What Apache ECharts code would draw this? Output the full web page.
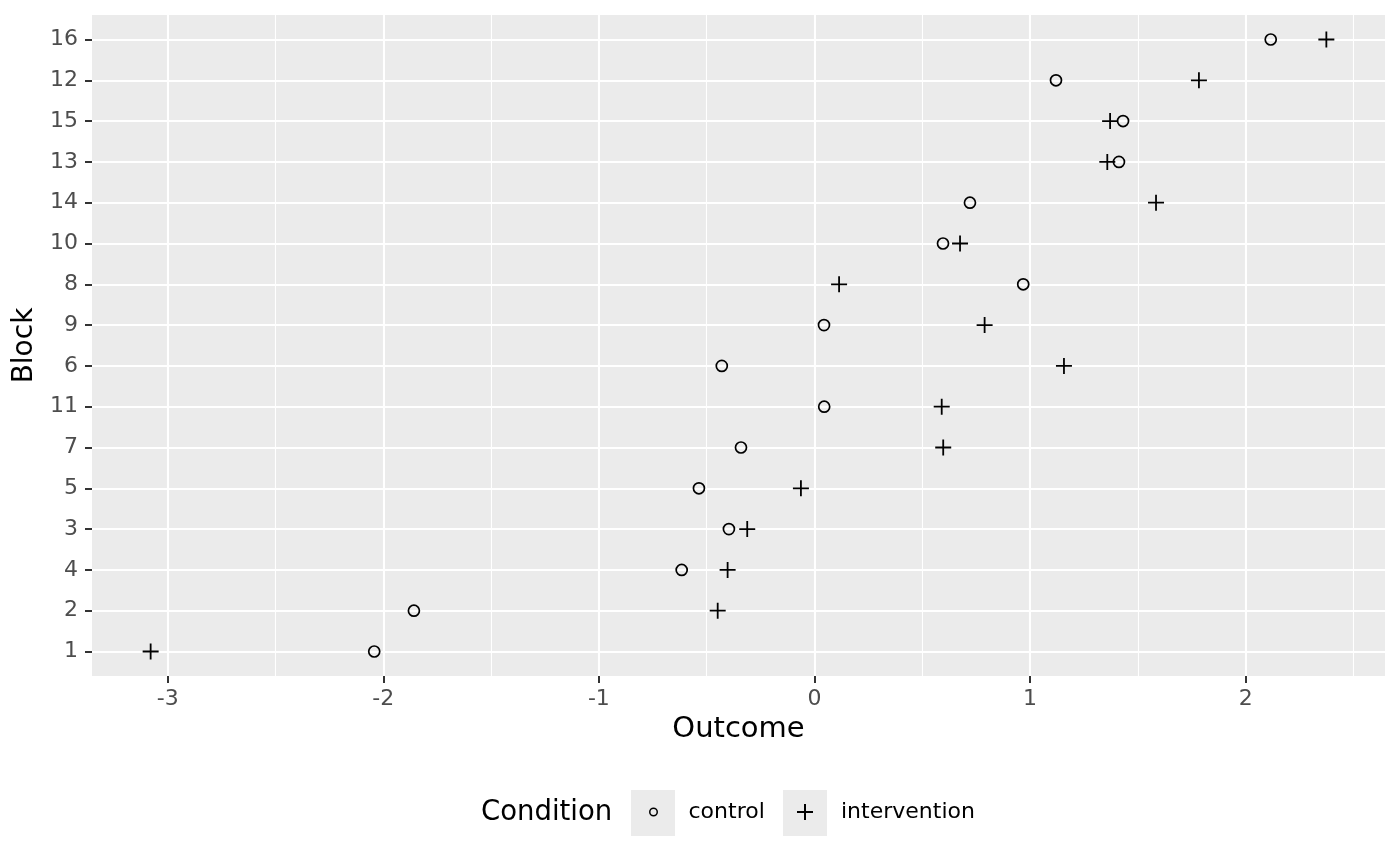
<!DOCTYPE html>
<html>
<head>
<meta charset="utf-8">
<script src="https://cdn.jsdelivr.net/npm/echarts@6/dist/echarts.min.js"></script>
<style>
html,body{margin:0;padding:0;background:#fff;}
#chart{width:1400px;height:865px;}
</style>
</head>
<body>
<div id="chart"></div>
<script>
// Blocks in display order (bottom to top)
const blocks = ['1','2','4','3','5','7','11','6','9','8','10','14','13','15','12','16'];
// Outcome per block, same order
const controlValues = [-2.042, -1.858, -0.616, -0.397, -0.536, -0.341, 0.045, -0.430, 0.044, 0.968, 0.596, 0.721, 1.412, 1.431, 1.120, 2.116];
const interventionValues = [-3.079, -0.449, -0.403, -0.312, -0.063, 0.597, 0.590, 1.157, 0.789, 0.114, 0.675, 1.584, 1.358, 1.371, 1.783, 2.374];
const xTicks = [-3, -2, -1, 0, 1, 2];
const xMinorBreaks = [-2.5, -1.5, -0.5, 0.5, 1.5, 2.5];
const xRange = [-3.351, 2.646];
const yRange = [-0.6, 15.6];
const conditions = ['control', 'intervention'];

const FONT = 'DejaVu Sans';
const plusPath = 'path://M0,8L16,8M8,0L8,16';
const yIdx = blocks.map((_, i) => i);

const chart = echarts.init(document.getElementById('chart'), null, {renderer: 'canvas'});
chart.setOption({
  animation: false,
  backgroundColor: '#ffffff',
  textStyle: {fontFamily: FONT},
  title: {
    text: 'Condition',
    left: 481, top: 797, padding: 0,
    textStyle: {fontFamily: FONT, fontSize: 27.5, fontWeight: 'normal', color: '#000', lineHeight: 32}
  },
  legend: [
    {
      data: [conditions[0]], left: 649, top: 799, padding: 0,
      itemWidth: 60, itemHeight: 7.5, selectedMode: false,
      itemStyle: {color: 'transparent', borderColor: '#000', borderWidth: 1.5, opacity: 1},
      textStyle: {fontFamily: FONT, fontSize: 22, color: '#000', lineHeight: 26}
    },
    {
      data: [conditions[1]], left: 796, top: 799, padding: 0,
      itemWidth: 62, itemHeight: 16, selectedMode: false,
      itemStyle: {color: 'transparent', borderColor: '#000', borderWidth: 2, opacity: 1},
      textStyle: {fontFamily: FONT, fontSize: 22, color: '#000', lineHeight: 26}
    }
  ],
  graphic: [
    {type: 'rect', left: 631, top: 790, z: -1, shape: {width: 44, height: 46}, style: {fill: '#EBEBEB'}, silent: true},
    {type: 'rect', left: 783, top: 790, z: -1, shape: {width: 44, height: 46}, style: {fill: '#EBEBEB'}, silent: true}
  ],
  grid: {
    left: 92, right: 15, top: 15, bottom: 189,
    show: true, backgroundColor: '#EBEBEB', borderWidth: 0
  },
  xAxis: {
    type: 'value', min: xRange[0], max: xRange[1],
    name: 'Outcome', nameLocation: 'middle', nameGap: 39,
    nameTextStyle: {fontFamily: FONT, fontSize: 29, color: '#000', lineHeight: 29},
    axisLine: {show: false, onZero: false},
    axisTick: {show: true, customValues: xTicks, length: 7, lineStyle: {color: '#333333', width: 2}},
    axisLabel: {customValues: xTicks, margin: 12, fontFamily: FONT, fontSize: 22, color: '#4D4D4D', lineHeight: 22},
    splitLine: {show: true, lineStyle: {color: '#ffffff', width: 2.1}}
  },
  yAxis: {
    type: 'value', min: yRange[0], max: yRange[1],
    name: 'Block', nameLocation: 'middle', nameGap: 51, nameRotate: 90,
    nameTextStyle: {fontFamily: FONT, fontSize: 28, color: '#000', lineHeight: 28},
    axisLine: {show: false, onZero: false},
    axisTick: {show: true, customValues: yIdx, length: 7, lineStyle: {color: '#333333', width: 2}},
    axisLabel: {customValues: yIdx, margin: 14, fontFamily: FONT, fontSize: 22, color: '#4D4D4D',
      formatter: v => blocks[Math.round(v)]},
    splitLine: {show: true, lineStyle: {color: '#ffffff', width: 2.1}}
  },
  series: [
    {
      name: 'minorGrid', type: 'scatter', data: [], silent: true,
      markLine: {
        silent: true, symbol: ['none', 'none'], label: {show: false}, z: 1,
        lineStyle: {color: '#ffffff', width: 1.1, type: 'solid', opacity: 1},
        emphasis: {disabled: true},
        data: xMinorBreaks.map(v => ({xAxis: v}))
      }
    },
    {
      name: conditions[0], type: 'scatter', z: 3,
      symbol: 'circle', symbolSize: 11,
      itemStyle: {color: 'transparent', borderColor: '#000', borderWidth: 1.7, opacity: 1},
      emphasis: {disabled: true},
      data: controlValues.map((v, i) => [v, i])
    },
    {
      name: conditions[1], type: 'scatter', z: 3,
      symbol: plusPath, symbolSize: 16,
      itemStyle: {color: 'transparent', borderColor: '#000', borderWidth: 1.8, opacity: 1},
      emphasis: {disabled: true},
      data: interventionValues.map((v, i) => [v, i])
    }
  ]
});
</script>
</body>
</html>
